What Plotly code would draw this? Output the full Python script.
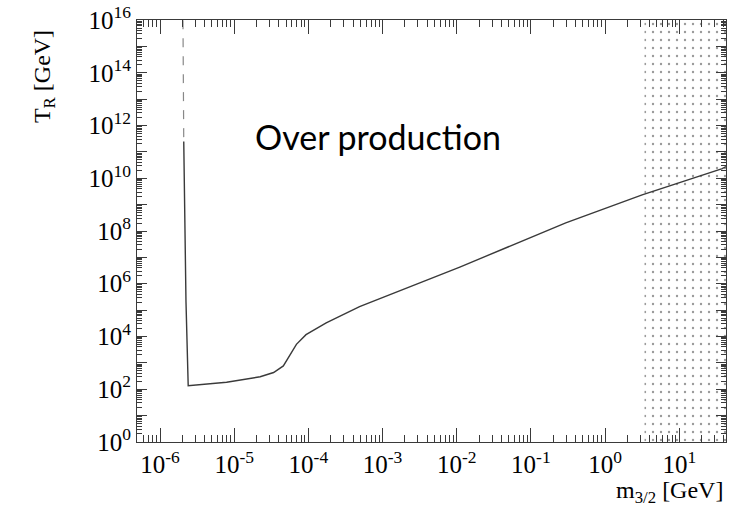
import numpy as np
import plotly.graph_objects as go

# ---- data ----
# solid curve: gravitino mass m_3/2 [GeV] vs reheating temperature bound T_R [GeV]
m32 = [2.09e-6, 2.24e-6, 2.40e-6, 7.9e-6, 2.24e-5, 3.4e-5, 4.6e-5, 5.4e-5, 6.9e-5,
       9.3e-5, 1.74e-4, 4.9e-4, 1.1e-2, 0.295, 3.16, 38.0, 42.7]
TR = [2.5e11, 2.1e5, 135, 182, 295, 427, 759, 1585, 5.0e3,
      1.17e4, 3.24e4, 1.35e5, 4.27e6, 2.04e8, 2.34e9, 2.34e10, 2.8e10]
# faint dashed upper continuation of the vertical edge
m32_dash = [2.04e-6, 2.09e-6]
TR_dash = [1e16, 2.5e11]
# dotted (excluded) band in m_3/2
band_m = [3.4, 42.7]
band_T = [1.0, 1e16]

x_major = [-6, -5, -4, -3, -2, -1, 0, 1]
x_labels = ["10<sup>-6</sup>", "10<sup>-5</sup>", "10<sup>-4</sup>", "10<sup>-3</sup>",
            "10<sup>-2</sup>", "10<sup>-1</sup>", "10<sup>0</sup>", "10<sup>1</sup>"]
y_major = list(range(0, 17))
y_labels = [f"10<sup>{e}</sup>" if e % 2 == 0 else "" for e in y_major]

serif = "Liberation Serif"
ink = "#3a3a3a"

fig = go.Figure()

# dotted band
fig.add_trace(go.Scatter(
    x=[band_m[0], band_m[1], band_m[1], band_m[0], band_m[0]],
    y=[band_T[0], band_T[0], band_T[1], band_T[1], band_T[0]],
    mode="lines", line=dict(width=0), fill="toself", fillcolor="rgba(0,0,0,0)",
    fillpattern=dict(shape=".", size=8, solidity=0.07, fgcolor="#333333", bgcolor="white"),
    hoverinfo="skip", showlegend=False))

fig.add_trace(go.Scatter(x=m32_dash, y=TR_dash, mode="lines",
                         line=dict(color="#888888", width=1.2, dash="dash"),
                         showlegend=False))
fig.add_trace(go.Scatter(x=m32, y=TR, mode="lines",
                         line=dict(color=ink, width=1.4), showlegend=False))

minor_x = [d * 10.0 ** e for e in range(-7, 2) for d in range(2, 10)]
minor_y = [d * 10.0 ** e for e in range(0, 16) for d in range(2, 10)]

axis_common = dict(type="log", showgrid=False, zeroline=False, showline=True,
                   linecolor=ink, linewidth=1.2, mirror="ticks", ticks="inside",
                   tickcolor=ink, tickwidth=1, ticklabeloverflow="allow",
                   tickfont=dict(family=serif, size=25, color="black"))

fig.update_xaxes(**axis_common, range=[-6.31, 1.63], tickmode="array",
                 tickvals=[10.0 ** e for e in x_major], ticktext=x_labels, ticklen=14,
                 minor=dict(ticks="inside", ticklen=7, tickcolor=ink, tickvals=minor_x))
fig.update_yaxes(**axis_common, range=[-0.005, 16.005], tickmode="array",
                 tickvals=[10.0 ** e for e in y_major], ticktext=y_labels, ticklen=10,
                 minor=dict(ticks="inside", ticklen=5, tickcolor=ink, tickvals=minor_y))

fig.add_annotation(text="T<sub>R</sub> [GeV]", xref="paper", yref="paper",
                   x=-0.158, y=0.867, textangle=-90, showarrow=False,
                   xanchor="center", yanchor="middle",
                   font=dict(family=serif, size=24, color="black"))
fig.add_annotation(text="m<sub>3/2</sub> [GeV]", xref="paper", yref="paper",
                   x=0.998, y=-0.119, showarrow=False, xanchor="right", yanchor="middle",
                   font=dict(family=serif, size=24, color="black"))
fig.add_annotation(text="Over production", xref="paper", yref="paper",
                   x=0.41, y=0.725, showarrow=False, xanchor="center", yanchor="middle",
                   font=dict(family="Lato", size=34, color="black"))

fig.update_layout(width=729, height=520, margin=dict(l=137, r=2, t=15, b=78),
                  paper_bgcolor="white", plot_bgcolor="white")

fig.write_html("out.html")
